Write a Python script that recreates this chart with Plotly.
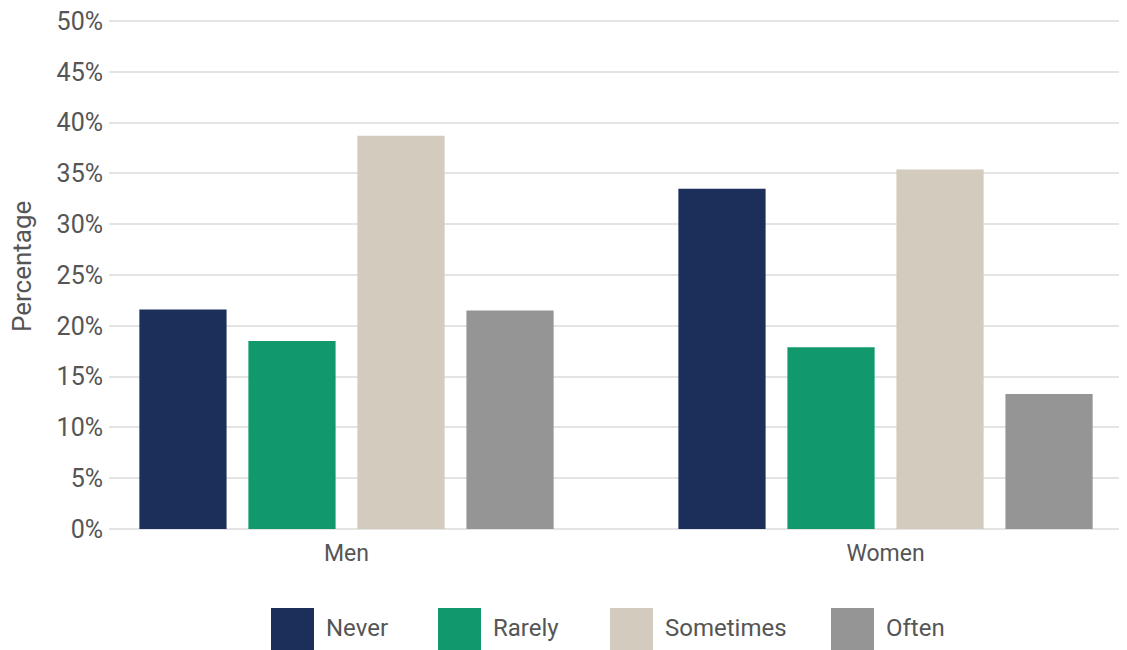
import plotly.graph_objects as go

groups = ["Men", "Women"]
series = ["Never", "Rarely", "Sometimes", "Often"]
never = [21.6, 33.5]
rarely = [18.5, 17.9]
sometimes = [38.7, 35.4]
often = [21.5, 13.3]
values = [never, rarely, sometimes, often]
colors = ["#1c2f5b", "#11996d", "#d2cbbe", "#959595"]
y_ticks = [0, 5, 10, 15, 20, 25, 30, 35, 40, 45, 50]
y_tick_labels = [f"{t}%" for t in y_ticks]
y_title = "Percentage"

TEXT = "#555555"
FONT = "Roboto"

# page body has an 8px margin; layout expressed in figure pixels
OFF = 8
W, H = 1127 - OFF, 650 - OFF
Y_MAX = 50.4
px_per_unit = (529 - 21) / 50.0
plot_l, plot_r = 109 - OFF, 1127 - OFF
plot_b = 529 - OFF
plot_t = round(plot_b - Y_MAX * px_per_unit)

def px_to_paper_x(px):
    return (px - OFF - plot_l) / (plot_r - plot_l)

def px_to_paper_y(py):
    return (plot_b - (py - OFF)) / (plot_b - plot_t)

fig = go.Figure()
for name, vals, col in zip(series, values, colors):
    fig.add_trace(go.Bar(x=groups, y=vals, name=name,
                         marker=dict(color=col, line=dict(width=0)),
                         showlegend=False))

# custom legend with large squares (screen pixel positions)
legend_sq_x = [271, 438, 610, 831]
for name, col, x0 in zip(series, colors, legend_sq_x):
    fig.add_shape(type="rect", xref="paper", yref="paper",
                  x0=px_to_paper_x(x0), x1=px_to_paper_x(x0 + 43),
                  y0=px_to_paper_y(652), y1=px_to_paper_y(608),
                  line=dict(width=0), fillcolor=col)
    fig.add_annotation(xref="paper", yref="paper", x=px_to_paper_x(x0 + 53),
                       y=px_to_paper_y(628), text=name, showarrow=False,
                       xanchor="left", yanchor="middle",
                       font=dict(family=FONT, size=24, color=TEXT))

# y-axis title
fig.add_annotation(xref="paper", yref="paper", x=px_to_paper_x(22),
                   y=px_to_paper_y(267), text=y_title, showarrow=False,
                   textangle=-90, xanchor="center", yanchor="middle",
                   font=dict(family=FONT, size=26, color=TEXT))

fig.update_layout(
    width=W, height=H,
    margin=dict(l=plot_l, r=W - plot_r, t=plot_t, b=H - plot_b, autoexpand=False),
    paper_bgcolor="white", plot_bgcolor="white",
    barmode="group", bargap=0.191, bargroupgap=0.2,
    font=dict(family=FONT, size=24, color=TEXT),
    xaxis=dict(range=[-0.4406, 1.448], showgrid=False, showline=False, ticks="",
               ticklabelstandoff=8,
               tickfont=dict(family=FONT, size=23, color=TEXT), fixedrange=True),
    yaxis=dict(range=[0, Y_MAX], tickvals=y_ticks, ticktext=y_tick_labels,
               showgrid=True, gridcolor="#e4e4e4", gridwidth=2,
               zeroline=True, zerolinecolor="#e4e4e4", zerolinewidth=2,
               showline=False, ticks="", ticklabelstandoff=5,
               ticklabeloverflow="allow",
               tickfont=dict(family=FONT, size=25, color=TEXT),
               automargin=False),
)

fig.write_html("out.html")
